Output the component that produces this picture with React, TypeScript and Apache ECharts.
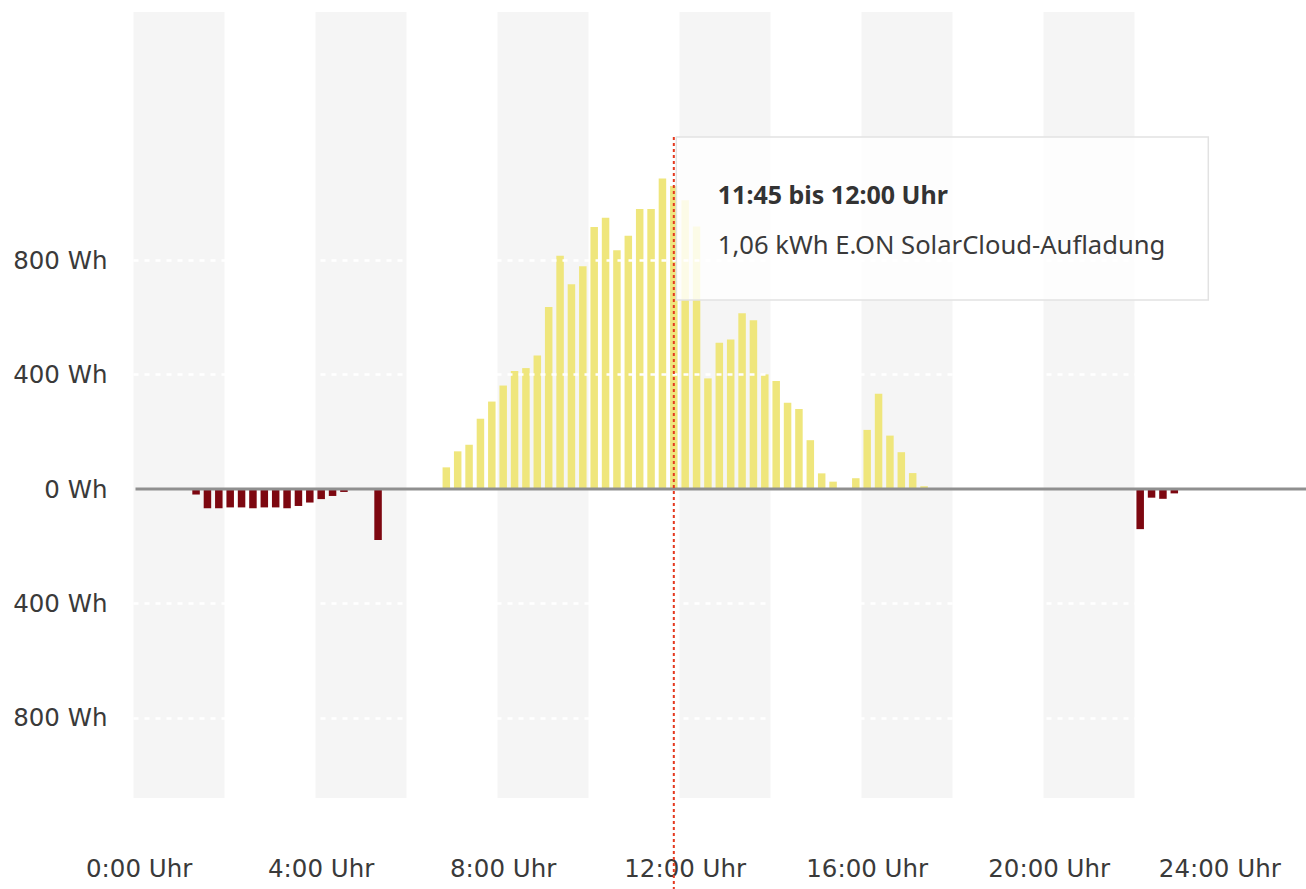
import React, { useEffect, useRef } from 'react';
import * as echarts from 'echarts';

// 15-minute slots of the day
const categories: string[] = [];
for (let h = 0; h < 24; h++) {
  for (let m = 0; m < 60; m += 15) {
    categories.push(`${h}:${m.toString().padStart(2, '0')}`);
  }
}

// Energy per 15 minutes in Wh (positive = SolarCloud-Aufladung, negative = Bezug)
const energyWh: number[] = [
  0, 0, 0, 0, 0, -19, -67, -67, -64, -64, -67, -64, -64, -67, -59, -47,
  -35, -24, -10, 0, 0, -178, 0, 0, 0, 0, 0, 76, 132, 155, 246, 306,
  362, 413, 423, 467, 637, 816, 716, 779, 916, 949, 835, 886, 979, 979, 1086, 1060,
  1010, 918, 387, 512, 523, 615, 590, 401, 378, 302, 280, 171, 55, 26, 0, 38,
  207, 333, 187, 129, 56, 10, 0, 0, 0, 0, 0, 0, 0, 0, 0, 0,
  0, 0, 0, 0, 0, 0, 0, 0, -140, -30, -34, -15, 0, 0, 0, 0,
];

const yLabelValues = [-800, -400, 0, 400, 800];
const gridLineValues = [-800, -400, 400, 800];
const hoverIndex = 47;
const seriesName = 'E.ON SolarCloud-Aufladung';

const W = 1306;
const H = 889;
const GRID = { left: 133.5, right: 80.5, top: 12, bottom: 91 };
const AXIS_FONT = 'DejaVu Sans';
const TIP_FONT = 'Noto Sans';
const YELLOW = '#efe67c';
const DARKRED = '#7d0710';

export default function App() {
  const ref = useRef<HTMLDivElement>(null);

  useEffect(() => {
    if (!ref.current) return;
    const chart = echarts.init(ref.current, undefined, { renderer: 'svg' });

    const option: any = {
      animation: false,
      grid: { ...GRID, containLabel: false },
      xAxis: {
        type: 'category',
        data: categories,
        boundaryGap: true,
        axisLine: { show: false },
        axisTick: { show: false },
        splitLine: { show: false },
        splitArea: {
          show: true,
          interval: 7,
          areaStyle: { color: ['#f5f5f5', 'rgba(255,255,255,0)'] },
        },
        axisLabel: {
          interval: (i: number) => i % 16 === 0 || i === 95,
          formatter: (v: string, i: number) => (i === 95 ? '24:00 Uhr' : `${v} Uhr`),
          margin: 58,
          fontSize: 24.5,
          color: '#3a3a3a',
          fontFamily: AXIS_FONT,
        },
      },
      yAxis: {
        type: 'value',
        min: -1080,
        max: 1668,
        axisLine: { show: false },
        axisTick: { show: false },
        splitLine: { show: false },
        axisLabel: {
          customValues: yLabelValues,
          formatter: (v: number) => `${Math.abs(v)} Wh`,
          margin: 26,
          fontSize: 24.5,
          color: '#3a3a3a',
          fontFamily: AXIS_FONT,
        },
      },
      series: [
        {
          type: 'line',
          data: [],
          z: 1,
          silent: true,
          markLine: {
            silent: true,
            symbol: ['none', 'none'],
            label: { show: false },
            lineStyle: { color: '#ffffff', width: 2.5, type: [5, 6] },
            data: gridLineValues.map((v) => ({ yAxis: v })),
          },
        },
        {
          type: 'bar',
          name: seriesName,
          data: energyWh,
          barWidth: 7.5,
          z: 2,
          itemStyle: {
            color: (p: any) => (p.value < 0 ? DARKRED : YELLOW),
          },
        },
      ],
    };
    chart.setOption(option);

    const zeroY = chart.convertToPixel({ yAxisIndex: 0 }, 0) as number;
    const hp = chart.convertToPixel({ xAxisIndex: 0, yAxisIndex: 0 }, [hoverIndex, energyWh[hoverIndex]]) as number[];
    const hx = hp[0];
    const start = categories[hoverIndex];
    const end = hoverIndex + 1 < categories.length ? categories[hoverIndex + 1] : '24:00';
    const title = `${start} bis ${end} Uhr`;
    const body = `${(energyWh[hoverIndex] / 1000).toFixed(2).replace('.', ',')} kWh ${seriesName}`;
    const boxTop = 137;

    chart.setOption({
      graphic: [
        {
          type: 'line',
          silent: true,
          z: 10,
          shape: { x1: GRID.left + 2, y1: zeroY, x2: W, y2: zeroY },
          style: { stroke: '#8f8f8f', lineWidth: 3 },
        },
        {
          type: 'rect',
          silent: true,
          z: 20,
          shape: { x: hx + 2.5, y: boxTop, width: 532, height: 163 },
          style: { fill: 'rgba(255,255,255,0.82)', stroke: '#e2e2e2', lineWidth: 1.5 },
        },
        {
          type: 'text',
          silent: true,
          z: 21,
          x: hx + 44,
          y: boxTop + 57,
          style: {
            text: title,
            fontSize: 25,
            fontWeight: 'bold',
            fontFamily: TIP_FONT,
            fill: '#333333',
            verticalAlign: 'middle',
          },
        },
        {
          type: 'text',
          silent: true,
          z: 21,
          x: hx + 44,
          y: boxTop + 107,
          style: {
            text: body,
            fontSize: 25.6,
            fontFamily: TIP_FONT,
            fill: '#3a3a3a',
            verticalAlign: 'middle',
          },
        },
        {
          type: 'line',
          silent: true,
          z: 22,
          shape: { x1: hx, y1: boxTop, x2: hx, y2: H },
          style: { stroke: '#e5391f', lineWidth: 2, lineDash: [3, 3] },
        },
      ],
    });

    return () => chart.dispose();
  }, []);

  return (
    <div
      ref={ref}
      style={{ position: 'fixed', left: 0, top: 0, width: W, height: H, background: '#ffffff' }}
    />
  );
}
